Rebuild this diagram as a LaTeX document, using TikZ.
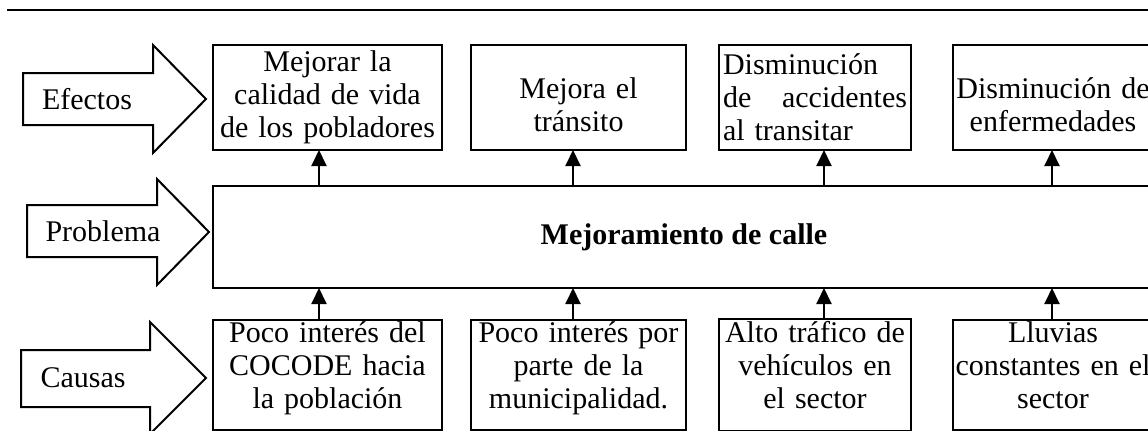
\documentclass[tikz,border=0pt]{standalone}
\usepackage{fontspec}
\setmainfont{Liberation Serif}
\usetikzlibrary{arrows.meta}
\newcommand\uptop{\rule{0pt}{18pt}}
\newcommand\lowend{\rule[-10pt]{0pt}{0pt}}
\begin{document}
\begin{tikzpicture}[x=0.5pt,y=-0.5pt,
  txt/.style={font=\fontsize{15}{16.5}\selectfont},
  box/.style={draw, line width=1pt, inner sep=1pt, align=center, txt, outer sep=0pt, minimum height=52.5pt},
  fat/.style={draw, line width=1pt, line join=miter, fill=white},
  con/.style={line width=1pt, -{Triangle[length=8pt,width=7.5pt]}},
  lab/.style={txt, inner sep=0pt}]
\useasboundingbox (0,0) rectangle (1148,430);
\clip (0,0) rectangle (1148,430);
\fill[white] (0,0) rectangle (1148,430);
% top rule
\coordinate (t0) at (7,10);
\coordinate (t1) at (1150,10);
\draw[line width=1pt] (t0) -- (t1);
% block arrows
\draw[fat] (23,73) -- (153,73) -- (153,45) -- (206,99) -- (153,153) -- (153,125) -- (23,125) -- cycle;
\draw[fat] (27,205) -- (157,205) -- (157,179) -- (209,232) -- (157,285) -- (157,257) -- (27,257) -- cycle;
\draw[fat] (21,350) -- (150,350) -- (150,322) -- (206,378) -- (150,434) -- (150,407) -- (21,407) -- cycle;
\node[lab] (lef) at (87,99) {Efectos};
\node[lab] (lpr) at (103,231) {Problema};
\node[lab] (lca) at (83,378) {Causas};
% effects
\node[box, minimum width=114.5pt, text width=112.5pt] (e1) at (327.5,97.5) {Mejorar la\\calidad de vida\\de los pobladores};
\node[box, minimum width=107.5pt, text width=105.5pt] (e2) at (578.5,97.5) {\uptop Mejora el\\tránsito};
\node[box, minimum width=96pt, text width=92pt, align=left] (e3) at (815,97.5) {Disminución\\de \hfill accidentes\\al transitar};
\node[box, minimum width=100pt, text width=98pt] (e4) at (1053,97.5) {\uptop Disminución de\\enfermedades};
% problem
\node[box, minimum width=471pt, minimum height=51pt, font=\fontsize{15}{16.5}\selectfont\bfseries] (big) at (684,237) {Mejoramiento de calle};
% causes
\node[box, minimum width=114.5pt, text width=112.5pt, minimum height=51pt] (c1) at (327.5,375) {Poco interés del\\COCODE hacia\\la población\lowend};
\node[box, minimum width=107.5pt, text width=105.5pt, minimum height=51pt] (c2) at (578.5,375) {Poco interés por\\parte de la\\municipalidad.\lowend};
\node[box, minimum width=96pt, text width=94pt, minimum height=51pt] (c3) at (815,375) {Alto tráfico de\\vehículos en\\el sector\lowend};
\node[box, minimum width=100pt, text width=98pt, minimum height=51pt] (c4) at (1053,375) {Lluvias\\constantes en el\\sector\lowend};
% arrow columns
\coordinate (a1) at (319,0);
\coordinate (a2) at (573,0);
\coordinate (a3) at (824,0);
\coordinate (a4) at (1052,0);
\foreach \i in {1,2,3,4} {
  \draw[con] (big.north -| a\i) -- (e\i.south -| a\i);
  \draw[con] (c\i.north -| a\i) -- (big.south -| a\i);
}
\end{tikzpicture}
\end{document}
